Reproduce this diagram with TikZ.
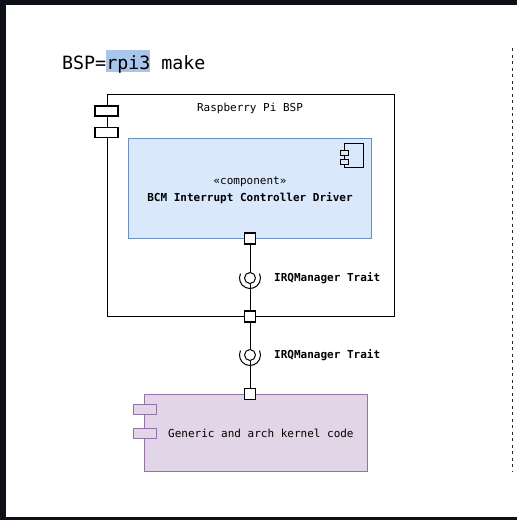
\documentclass[tikz,border=0pt]{standalone}
\usepackage{fontspec}
\setmonofont{DejaVu Sans Mono}
\definecolor{darkframe}{HTML}{0D1117}
\definecolor{bluefill}{HTML}{DAE8FC}
\definecolor{bluedraw}{HTML}{6C8EBF}
\definecolor{purplefill}{HTML}{E1D5E7}
\definecolor{purpledraw}{HTML}{9673A6}
\definecolor{hilite}{HTML}{A9C5EB}
\begin{document}
\begin{tikzpicture}[x=1pt,y=-1pt,
  every node/.style={font=\ttfamily\fontsize{11}{13}\selectfont, inner sep=0pt},
  box/.style={draw, line width=1.2pt, anchor=north west},
  tab/.style={draw, line width=1.1pt, minimum width=23pt, minimum height=10pt},
  port/.style={draw, fill=white, line width=1.1pt, minimum size=11pt},
  lolli/.style={circle, draw, fill=white, line width=1pt, minimum size=11pt},
  conn/.style={line width=1pt}]
\useasboundingbox (0,0) rectangle (517,520);
\fill[white] (0,0) rectangle (517,520);
\fill[darkframe] (0,0) rectangle (517,5);
\fill[darkframe] (0,0) rectangle (6,520);
\fill[darkframe] (0,517) rectangle (517,520);
% dashed divider
\draw[line width=1.6pt, dash pattern=on 3pt off 3.5pt, black!85] (512.5,48) -- (512.5,472);
% title
\fill[hilite] (106,50) rectangle (150,72);
\node (title) [anchor=base west, font=\ttfamily\fontsize{18.3}{22}\selectfont] at (62,69) {BSP=rpi3 make};
% outer BSP box
\node (bsp) [box, minimum width=287pt, minimum height=222pt] at (107,94) {};
\node (bsptab1) [tab, fill=white] at (106.5,111) {};
\node (bsptab2) [tab, fill=white] at (106.5,132.5) {};
\node (bsplabel) at (250,108) {Raspberry Pi BSP};
% BCM driver box
\node (bcm) [box, draw=bluedraw, fill=bluefill, minimum width=243pt, minimum height=100pt, line width=1pt] at (128,138) {};
\node (bcmicon) [draw, line width=1pt, minimum width=19pt, minimum height=24pt, anchor=north west] at (344,143) {};
\node (bcmicon1) [draw, fill=bluefill, line width=1pt, minimum width=8pt, minimum height=5pt] at (344,152.5) {};
\node (bcmicon2) [draw, fill=bluefill, line width=1pt, minimum width=8pt, minimum height=5pt] at (344,161.5) {};
\node (stereo) at (250,182) {«component»};
\node (bcmname) [font=\ttfamily\bfseries\fontsize{11}{13}\selectfont] at (250,198) {BCM Interrupt Controller Driver};
% kernel box
\node (kernel) [box, draw=purpledraw, fill=purplefill, minimum width=223pt, minimum height=77pt, line width=1pt] at (144,394) {};
\node (ktab1) [tab, draw=purpledraw, fill=purplefill, line width=1pt] at (144.5,409.5) {};
\node (ktab2) [tab, draw=purpledraw, fill=purplefill, line width=1pt] at (144.5,433) {};
\node (kname) [anchor=west] at (168,433) {Generic and arch kernel code};
% interfaces
\node (i1) [lolli] at (250,278) {};
\node (i2) [lolli] at (250,355) {};
\node (p1) [port] at (250,238.5) {};
\node (p2) [port] at (250,316.5) {};
\node (p3) [port] at (250,394) {};
\draw[conn] (p1) -- (i1);
\draw[conn] (i1) -- (p2);
\draw[conn] (p2) -- (i2);
\draw[conn] (i2) -- (p3);
\draw[conn] (i1.center) ++(205:10.5) arc[start angle=205, end angle=-25, radius=10.5];
\draw[conn] (i2.center) ++(205:10.5) arc[start angle=205, end angle=-25, radius=10.5];
\node (l1) [anchor=west, font=\ttfamily\bfseries\fontsize{11}{13}\selectfont] at (274,278) {IRQManager Trait};
\node (l2) [anchor=west, font=\ttfamily\bfseries\fontsize{11}{13}\selectfont] at (274,355) {IRQManager Trait};
\end{tikzpicture}
\end{document}
